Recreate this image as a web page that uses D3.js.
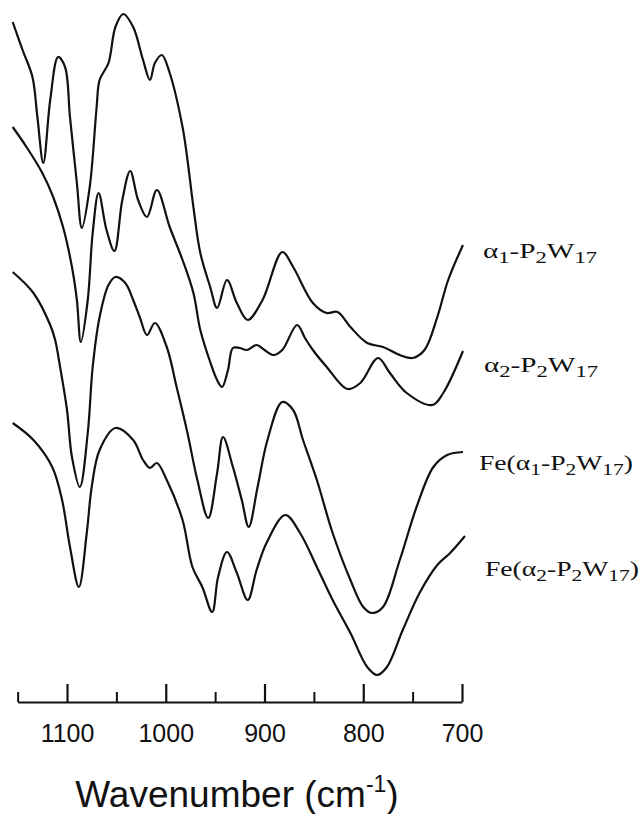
<!DOCTYPE html>
<html>
<head>
<meta charset="utf-8">
<script src="https://cdn.jsdelivr.net/npm/d3@7"></script>
<style>
  body { margin: 0; background: #fff; }
  svg { display: block; }
</style>
</head>
<body>
<svg id="chart" width="643" height="814"></svg>
<script>
// IR spectra, [wavenumber (cm-1), transmittance (arbitrary offset units)]
const alpha1Spectrum = [
  [1155,136],[1145,130.4],[1135,125],[1130,117],[1124,107.8],[1117,120.4],[1109,129],[1102,127],
  [1097,117],[1090,103.8],[1085,94.8],[1077,103],[1070,119],[1067,124.4],[1058,127.8],[1051,135],
  [1043,137.6],[1033,135],[1023,128.4],[1016,124.4],[1011,127.8],[1004,129.4],[996,125.8],[983,115],
  [978,108.4],[972,99],[965,89.8],[955,83],[948,78.8],[938,84.4],[928,79.8],[917,76.4],[902,80.4],
  [882,90],[871,87],[851,79.8],[837,77.8],[826,78],[813,75],[796,71.8],[780,71],[763,69.4],
  [750,68.8],[738,70.4],[725,77],[714,84.4],[699,91.4]
];
const alpha2Spectrum = [
  [1155,115],[1141,111],[1125,105.8],[1114,101],[1104,95],[1095,87],[1090,80.4],[1086,72],
  [1079,80.4],[1074,93.8],[1068,101.8],[1060,94.4],[1052,90.2],[1044,100.4],[1036,106.2],[1028,100.4],
  [1019,97],[1009,102.4],[996,95],[983,88.4],[972,81.8],[965,74.4],[955,68],[948,64.4],[943,63],
  [937,66.4],[932,70.8],[925,70.8],[918,70.4],[908,71.4],[900,70.4],[891,69.4],[882,70.4],[867,75.4],
  [859,72.8],[851,70.4],[837,67],[816,62.6],[803,63.8],[785,68.8],[773,65.8],[756,61.8],[730,59.4],
  [719,61.8],[699,70.2]
];
const feAlpha1Spectrum = [
  [1155,86],[1134,81.8],[1117,75.4],[1112,72.4],[1107,67],[1100,58.4],[1095,49],[1087,43],
  [1079,53.8],[1074,67],[1067,77],[1058,83.4],[1051,85],[1041,83.8],[1033,80.4],[1026,76.8],
  [1019,73.4],[1011,75.8],[999,71],[989,63],[978,53.8],[968,44.4],[957,36.8],[948,45.8],[942,53],
  [932,47],[923,40.4],[916,35],[907,43],[897,52.4],[882,60],[871,58.4],[861,52.4],[847,44.4],
  [831,33.8],[813,24.4],[800,19],[791,17.8],[780,19],[763,28.4],[746,39],[729,47],[715,49.4],[699,50]
];
const feAlpha2Spectrum = [
  [1155,55.8],[1134,52.4],[1115,47],[1105,40.4],[1097,31],[1088,23],[1080,33.8],[1075,43],
  [1067,50.4],[1051,54.8],[1033,52.4],[1023,48.4],[1016,46.8],[1009,47.8],[999,44.4],[983,36.4],
  [973,27],[963,23],[953,18],[947,25],[938,30],[928,25.8],[917,20.4],[908,26.4],[898,31.8],
  [879,37.4],[864,33.8],[847,27],[831,20.4],[813,13.8],[796,7],[786,5.4],[776,7],[760,14.4],
  [743,21.8],[725,27.4],[712,29.8],[697,33.2]
];

const spectra = [alpha1Spectrum, alpha2Spectrum, feAlpha1Spectrum, feAlpha2Spectrum];
// "_" marks a subscript run of digits
const seriesLabels = ["α_1-P_2W_17", "α_2-P_2W_17", "Fe(α_1-P_2W_17)", "Fe(α_2-P_2W_17)"];

const majorTicks = [1100, 1000, 900, 800, 700];
const minorTicks = [1150, 1050, 950, 850, 750];
const axisTitle = "Wavenumber (cm";
const axisTitleSup = "-1";

// ---- layout ----
const svg = d3.select("#chart");
const baseY = 702;
const x = d3.scaleLinear().domain([1155, 700]).range([12.7, 462]);
const y = d3.scaleLinear().domain([0, 140]).range([baseY, 2]);

const line = d3.line()
  .x(d => x(d[0]))
  .y(d => y(d[1]))
  .curve(d3.curveCatmullRom.alpha(0.5));

svg.append("g")
  .selectAll("path")
  .data(spectra)
  .join("path")
  .attr("d", line)
  .attr("fill", "none")
  .attr("stroke", "#111")
  .attr("stroke-width", 2.2)
  .attr("stroke-linejoin", "round");

// axis: ticks point upward from the baseline
const xAxisScale = x.copy().domain([1150, 700]).range([x(1150), x(700)]);
const axisG = svg.append("g").attr("transform", `translate(0,${baseY})`);

axisG.append("g")
  .call(d3.axisTop(xAxisScale).tickValues(majorTicks).tickSize(18).tickSizeOuter(0).tickFormat(""))
  .call(g => g.selectAll("path,line").attr("stroke", "#111").attr("stroke-width", 2.2));

axisG.append("g")
  .call(d3.axisTop(xAxisScale).tickValues(minorTicks).tickSize(10).tickFormat(""))
  .call(g => g.select(".domain").remove())
  .call(g => g.selectAll("line").attr("stroke", "#111").attr("stroke-width", 2));

axisG.append("g")
  .call(d3.axisBottom(xAxisScale).tickValues(majorTicks).tickSize(0).tickPadding(22).tickFormat(d3.format("d")))
  .call(g => g.select(".domain").remove())
  .call(g => g.selectAll("text")
    .attr("fill", "#111")
    .attr("font-family", "'Liberation Sans', Arial, sans-serif")
    .attr("font-size", 25));

// axis title
const title = svg.append("text")
  .attr("x", 237)
  .attr("y", 807)
  .attr("text-anchor", "middle")
  .attr("font-family", "'Liberation Sans', Arial, sans-serif")
  .attr("font-size", 37)
  .attr("fill", "#111");
title.append("tspan").text(axisTitle);
title.append("tspan").attr("dy", -15).attr("font-size", 23).text(axisTitleSup);
title.append("tspan").attr("dy", 15).text(")");

// series labels to the right of the curve ends
const labelLayout = [
  { x: 483, y: 258, w: 114 },
  { x: 484, y: 372, w: 114 },
  { x: 479, y: 470, w: 154 },
  { x: 485, y: 576, w: 154 }
];

seriesLabels.forEach((lab, i) => {
  const pos = labelLayout[i];
  const t = svg.append("text")
    .attr("x", pos.x)
    .attr("y", pos.y)
    .attr("font-family", "'Liberation Serif', 'Times New Roman', serif")
    .attr("font-size", 22)
    .attr("fill", "#111");
  const parts = lab.split(/(_\d+)/).filter(s => s.length);
  let lowered = false;
  parts.forEach(p => {
    if (p.startsWith("_")) {
      t.append("tspan").attr("dy", lowered ? 0 : 5).attr("font-size", 17).text(p.slice(1));
      lowered = true;
    } else {
      t.append("tspan").attr("dy", lowered ? -5 : 0).text(p);
      lowered = false;
    }
  });
  const len = t.node().getComputedTextLength();
  const k = pos.w / len;
  t.attr("transform", `translate(${pos.x},0) scale(${k},1) translate(${-pos.x},0)`);
});
</script>
</body>
</html>
